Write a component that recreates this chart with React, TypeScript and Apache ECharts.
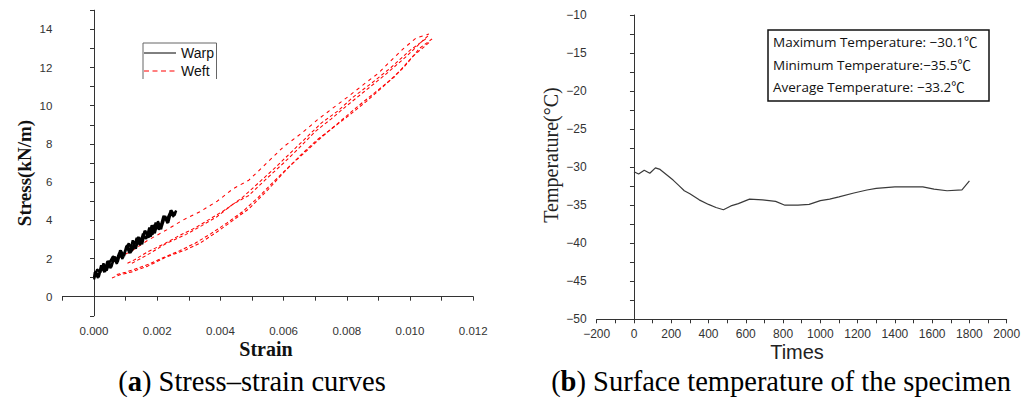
import React, { useEffect, useRef } from "react";
import * as echarts from "echarts";

// ---------- Data: (a) Stress–strain curves ----------
const warpStrain = [
  0.0, 0.0001, 0.0002, 0.0003, 0.0004, 0.0005, 0.0006, 0.0007, 0.0008, 0.0009, 0.001, 0.0011, 0.0012, 0.0013,
  0.0014, 0.0015, 0.0016, 0.0017, 0.0018, 0.0019, 0.002, 0.0021, 0.0022, 0.0023, 0.0024, 0.0025, 0.0026,
  0.00255, 0.00245, 0.00235, 0.00225, 0.00215, 0.00205, 0.00195, 0.00185, 0.00175, 0.00165, 0.00155, 0.00145,
  0.00135, 0.00125, 0.00115, 0.00105, 0.00095, 0.00085, 0.00075, 0.00065, 0.00055, 0.00045, 0.00035, 0.00025,
  0.00015, 0.00005, 0.0,
  0.000025, 0.000125, 0.000225, 0.000325, 0.000425, 0.000525, 0.000625, 0.000725, 0.000825, 0.000925, 0.001025,
  0.001125, 0.001225, 0.001325, 0.001425, 0.001525, 0.001625, 0.001725, 0.001825, 0.001925, 0.002025, 0.002125,
  0.002225, 0.002325, 0.002425, 0.002525,
];
const warpStress = [
  0.9, 1.43, 1.26, 1.74, 1.37, 1.81, 2.12, 1.87, 2.3, 1.98, 2.51, 2.79, 2.47, 2.8,
  3.13, 2.82, 3.45, 3.28, 3.16, 3.74, 3.77, 3.65, 4.23, 4.01, 4.39, 4.23, 4.51,
  4.25, 4.52, 3.88, 4.22, 3.7, 3.52, 3.88, 3.25, 3.62, 3.02, 3.3, 2.7,
  3.08, 2.55, 2.3, 2.7, 2.12, 2.42, 1.8, 2.1, 1.55, 1.88, 1.3, 1.62,
  1.02, 1.35, 1.0,
  1.28, 0.98, 1.65, 1.28, 1.86, 1.49, 2.02, 1.72, 2.43, 2.06, 2.67,
  2.27, 2.95, 2.51, 3.12, 2.75, 3.46, 3.09, 3.74, 3.32, 3.95, 3.53,
  4.21, 3.85, 4.53, 4.16,
];

const weftUpper = [
  [0.0, 1.15], [0.0003, 1.5], [0.0006, 1.8], [0.0009, 2.15], [0.0012, 2.4], [0.0017, 2.95], [0.0023, 3.5],
  [0.0028, 4.0], [0.00335, 4.45], [0.0039, 5.0], [0.0044, 5.65], [0.0049, 6.1], [0.0055, 7.05], [0.006, 7.85],
  [0.0066, 8.6], [0.0071, 9.3], [0.0075, 9.8], [0.0081, 10.55], [0.0086, 11.2], [0.009, 11.7], [0.0093, 12.2],
  [0.0098, 13.0], [0.0102, 13.55], [0.0106, 13.75],
];
const weftMiddle = [
  [0.0012, 1.75], [0.0017, 2.2], [0.0023, 2.8], [0.0029, 3.25], [0.00335, 3.66], [0.0039, 4.2], [0.0044, 4.85],
  [0.0049, 5.3], [0.0055, 6.24], [0.006, 7.0], [0.0065, 7.8], [0.007, 8.65], [0.0075, 9.3], [0.008, 10.0],
  [0.0086, 10.8], [0.0092, 11.6], [0.0099, 12.6], [0.0104, 13.4], [0.0106, 13.7],
];
const weftMiddleReturn = [
  [0.0105, 13.5], [0.01, 12.9], [0.0094, 12.0], [0.0088, 11.2], [0.0082, 10.45], [0.0077, 9.7], [0.0072, 9.1],
  [0.0067, 8.3], [0.0062, 7.5], [0.0057, 6.7], [0.0052, 5.95], [0.0047, 5.2], [0.0042, 4.6], [0.0037, 4.1],
  [0.0032, 3.6], [0.0027, 3.2], [0.0022, 2.75], [0.0017, 2.35], [0.0013, 1.95], [0.001, 1.7],
];
const weftLower = [
  [0.00057, 0.98], [0.0008, 1.14], [0.0012, 1.3], [0.0017, 1.6], [0.0023, 2.09], [0.0029, 2.45], [0.00335, 2.8],
  [0.0039, 3.4], [0.0044, 4.0], [0.0049, 4.6], [0.0055, 5.59], [0.006, 6.5], [0.0065, 7.35], [0.00705, 8.2],
  [0.008, 9.4], [0.0086, 10.2], [0.00915, 11.0], [0.0098, 12.0], [0.0103, 13.0], [0.0107, 13.5],
];
const weftLowerReturn = [
  [0.0106, 13.3], [0.0101, 12.6], [0.0095, 11.5], [0.0089, 10.7], [0.0083, 9.9], [0.0077, 9.05], [0.0072, 8.35],
  [0.0067, 7.6], [0.0062, 6.85], [0.0057, 6.05], [0.0052, 5.2], [0.0047, 4.45], [0.0042, 3.85], [0.0037, 3.3],
  [0.0032, 2.8], [0.0027, 2.4], [0.0022, 2.05], [0.0018, 1.75], [0.0014, 1.5], [0.001, 1.28], [0.0007, 1.15],
];

// ---------- Data: (b) Surface temperature ----------
const times = [
  0, 25, 55, 85, 115, 140, 175, 210, 240, 270, 300, 350, 400, 440, 480, 520, 560, 620,
  690, 760, 810, 880, 940, 1000, 1050, 1100, 1180, 1250, 1300, 1400, 1480, 1550, 1610, 1680, 1760, 1800,
];
const temps = [
  -30.6, -30.9, -30.4, -30.8, -30.1, -30.3, -31.0, -31.7, -32.4, -33.1, -33.5, -34.3, -34.9, -35.3, -35.6, -35.1, -34.8, -34.2,
  -34.3, -34.5, -35.0, -35.0, -34.9, -34.4, -34.2, -33.9, -33.4, -33.0, -32.8, -32.6, -32.6, -32.6, -32.9, -33.1, -33.0, -31.8,
];
const statLines = [
  "Maximum Temperature: \u221230.1\u2103",
  "Minimum Temperature:\u221235.5\u2103",
  "Average Temperature: \u221233.2\u2103",
];

const SANS = '"Liberation Sans", Arial, sans-serif';
const SERIF = '"Liberation Serif", "Times New Roman", serif';
const minus = (v: number) => (v < 0 ? "\u2212" + Math.abs(v) : String(v));

export default function App() {
  const ref = useRef<HTMLDivElement>(null);
  useEffect(() => {
    if (!ref.current) return;
    const chart = echarts.init(ref.current, null, { renderer: "svg" });
    const weftStyle = { color: "#ff0000", width: 1.05, type: [3.5, 2.5] as any };
    const weftSeries = [weftUpper, weftMiddle, weftMiddleReturn, weftLower, weftLowerReturn].map((d, i) => ({
      name: "Weft",
      type: "line",
      xAxisIndex: 0,
      yAxisIndex: 0,
      data: d,
      showSymbol: false,
      symbol: "none",
      lineStyle: i === 0 ? { ...weftStyle, type: [3.5, 4] as any } : weftStyle,
      z: 2,
    }));
    const axisCommon = {
      splitLine: { show: false },
      axisLine: { show: true, lineStyle: { color: "#333", width: 1 } },
      axisTick: { show: true, length: 4, lineStyle: { color: "#333" } },
    };
    const option: any = {
      animation: false,
      grid: [
        { left: 62.4, top: 10.2, width: 410.8, height: 305.6 },
        { left: 596.7, top: 15, width: 410, height: 304.3 },
      ],
      xAxis: [
        {
          gridIndex: 0, type: "value", min: -0.001, max: 0.012, interval: 0.001, ...axisCommon,
          axisLabel: {
            margin: 9, fontSize: 11.5, color: "#333", fontFamily: SANS,
            formatter: (v: number) => (Math.round(v * 1000) % 2 === 0 ? v.toFixed(3) : ""),
          },
        },
        {
          gridIndex: 1, type: "value", min: -200, max: 2000, interval: 100, ...axisCommon,
          axisLabel: {
            margin: 9, fontSize: 12, color: "#333", fontFamily: SANS,
            formatter: (v: number) => (Math.round(v) % 200 === 0 ? minus(Math.round(v)) : ""),
          },
        },
      ],
      yAxis: [
        {
          gridIndex: 0, type: "value", min: -1, max: 15, interval: 1, ...axisCommon,
          axisLabel: {
            margin: 10, fontSize: 11.5, color: "#333", fontFamily: SANS,
            formatter: (v: number) => (Math.round(v) % 2 === 0 ? String(Math.round(v)) : ""),
          },
        },
        {
          gridIndex: 1, type: "value", min: -50, max: -10, interval: 2.5, ...axisCommon,
          axisLabel: {
            margin: 10, fontSize: 12, color: "#333", fontFamily: SANS,
            formatter: (v: number) => (Math.abs(v % 5) < 1e-9 ? minus(v) : ""),
          },
        },
      ],
      series: [
        ...weftSeries,
        {
          name: "Warp",
          type: "line",
          xAxisIndex: 0,
          yAxisIndex: 0,
          data: warpStrain.map((s, i) => [s, warpStress[i]]),
          showSymbol: false,
          symbol: "none",
          lineStyle: { color: "#000", width: 2.3 },
          z: 3,
        },
        {
          name: "Temperature",
          type: "line",
          xAxisIndex: 1,
          yAxisIndex: 1,
          data: times.map((t, i) => [t, temps[i]]),
          showSymbol: false,
          symbol: "none",
          lineStyle: { color: "#3a3a3a", width: 1.2 },
        },
      ],
      graphic: [
        // legend of (a)
        { type: "polyline", shape: { points: [[143, 79], [143, 43], [216.5, 43], [216.5, 79]] }, style: { stroke: "#666", lineWidth: 1, fill: null } },
        { type: "line", shape: { x1: 144, y1: 53, x2: 176, y2: 53 }, style: { stroke: "#000", lineWidth: 1 } },
        { type: "line", shape: { x1: 144, y1: 71, x2: 176, y2: 71 }, style: { stroke: "#ff0000", lineWidth: 1.2, lineDash: [5, 3.5] } },
        { type: "text", x: 181, y: 53, style: { text: "Warp", font: `14px ${SANS}`, fill: "#111", textAlign: "left", textVerticalAlign: "middle", align: "left", verticalAlign: "middle" } },
        { type: "text", x: 181, y: 71, style: { text: "Weft", font: `14px ${SANS}`, fill: "#111", textAlign: "left", textVerticalAlign: "middle", align: "left", verticalAlign: "middle" } },
        // axis titles (a)
        { type: "text", x: 24, y: 173, rotation: Math.PI / 2, style: { text: "Stress(kN/m)", font: `bold 19px ${SERIF}`, fill: "#111", textAlign: "center", textVerticalAlign: "middle", align: "center", verticalAlign: "middle" } },
        { type: "text", x: 266, y: 349, style: { text: "Strain", font: `bold 20px ${SERIF}`, fill: "#111", textAlign: "center", textVerticalAlign: "middle", align: "center", verticalAlign: "middle" } },
        // axis titles (b)
        { type: "text", x: 551, y: 155, rotation: Math.PI / 2, style: { text: "Temperature(\u00b0C)", font: `20px ${SERIF}`, fill: "#222", textAlign: "center", textVerticalAlign: "middle", align: "center", verticalAlign: "middle" } },
        { type: "text", x: 797, y: 352, style: { text: "Times", font: `20px ${SANS}`, fill: "#222", textAlign: "center", textVerticalAlign: "middle", align: "center", verticalAlign: "middle" } },
        // stats box (b)
        { type: "rect", shape: { x: 768, y: 30, width: 221, height: 71 }, style: { stroke: "#111", lineWidth: 1.5, fill: "#fff" } },
        ...statLines.map((t, i) => ({
          type: "text", x: 773, y: [41.7, 65, 87.3][i],
          style: { text: t, font: `13.5px "Open Sans", "Noto Sans CJK SC", sans-serif`, fill: "#111", textAlign: "left", textVerticalAlign: "middle", align: "left", verticalAlign: "middle" },
        })),
        // captions
        {
          type: "text", x: 252, y: 381,
          style: {
            text: "({b|a}) Stress\u2013strain curves", font: `28.5px ${SERIF}`, fill: "#000",
            textAlign: "center", textVerticalAlign: "middle", align: "center", verticalAlign: "middle",
            rich: { b: { fontWeight: "bold", fontSize: 28.5, fontFamily: SERIF, fill: "#000" } },
          },
        },
        {
          type: "text", x: 781, y: 381,
          style: {
            text: "({b|b}) Surface temperature of the specimen", font: `28.5px ${SERIF}`, fill: "#000",
            textAlign: "center", textVerticalAlign: "middle", align: "center", verticalAlign: "middle",
            rich: { b: { fontWeight: "bold", fontSize: 28.5, fontFamily: SERIF, fill: "#000" } },
          },
        },
      ],
    };
    chart.setOption(option);
    return () => chart.dispose();
  }, []);
  return (
    <div
      ref={ref}
      style={{ position: "fixed", left: 0, top: 0, width: 1032, height: 399, background: "#fff" }}
    />
  );
}
